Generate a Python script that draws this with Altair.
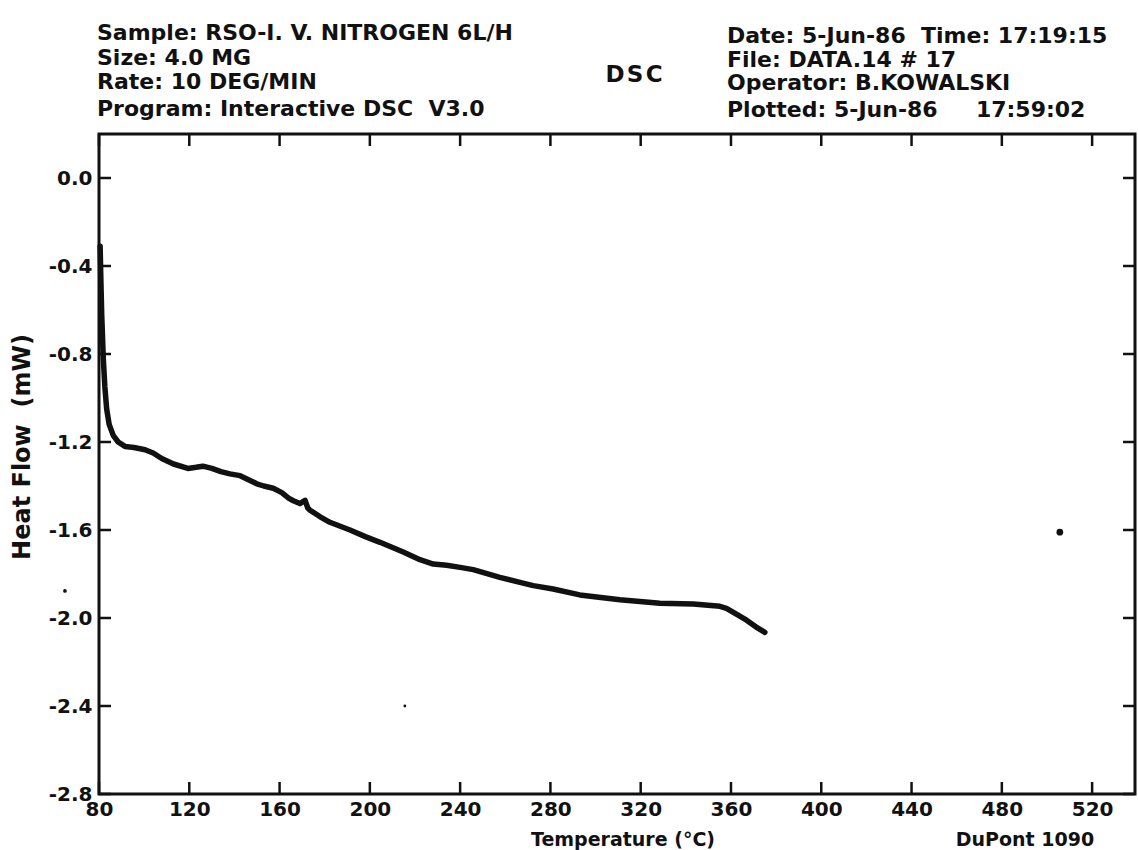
import altair as alt
import pandas as pd

# ---- data ----
temperature = [80.5, 80.8, 81.2, 81.9, 82.6, 83.4, 84.5, 86.3, 88.5, 91.5, 95.5,
               100.4, 104.0, 107.8, 113.0, 119.4, 123.0, 126.0, 130.0, 134.0, 138.0,
               142.5, 146.0, 149.9, 153.0, 157.2, 161.0, 164.0, 166.1, 169.0, 171.3,
               172.5, 173.5, 178.0, 182.3, 191.2, 198.0, 204.5, 214.8, 222.2, 228.1,
               234.0, 240.0, 245.8, 257.6, 266.5, 272.4, 281.2, 293.0, 310.8, 328.5,
               343.3, 355.1, 358.0, 362.0, 366.9, 371.0, 375.0]
heat_flow = [-0.31, -0.45, -0.62, -0.82, -0.95, -1.05, -1.12, -1.17, -1.20, -1.22, -1.225,
             -1.235, -1.25, -1.275, -1.30, -1.32, -1.315, -1.31, -1.32, -1.335, -1.345,
             -1.353, -1.37, -1.39, -1.40, -1.41, -1.43, -1.455, -1.467, -1.48, -1.465,
             -1.50, -1.51, -1.54, -1.565, -1.60, -1.63, -1.656, -1.70, -1.735, -1.755,
             -1.76, -1.77, -1.78, -1.815, -1.838, -1.853, -1.868, -1.895, -1.917, -1.933,
             -1.936, -1.947, -1.956, -1.98, -2.01, -2.04, -2.065]

# small stray specks visible on the scanned plot
speck_temperature = [505.7, 215.5, 64.9]
speck_heat_flow = [-1.61, -2.40, -1.877]
speck_size = [45, 8, 14]

x_tick_values = [80, 120, 160, 200, 240, 280, 320, 360, 400, 440, 480, 520]
y_tick_values = [0.0, -0.4, -0.8, -1.2, -1.6, -2.0, -2.4, -2.8]

NB = "\u00a0"
header_left = ["Sample:" + NB + "RSO-I." + NB + "V." + NB + "NITROGEN" + NB + "6L/H",
               "Size:" + NB + "4.0" + NB + "MG",
               "Rate:" + NB + "10" + NB + "DEG/MIN",
               "Program:" + NB + "Interactive" + NB + "DSC" + NB * 2 + "V3.0"]
header_right = ["Date:" + NB + "5-Jun-86" + NB * 2 + "Time:" + NB + "17:19:15",
                "File:" + NB + "DATA.14" + NB + "#" + NB + "17",
                "Operator:" + NB + "B.KOWALSKI",
                "Plotted:" + NB + "5-Jun-86" + NB * 5 + "17:59:02"]
center_label = "D\u200aS\u200aC"
x_title = "Temperature (°C)"
y_title = "Heat" + NB + "Flow" + NB * 2 + "(mW)"
instrument = "DuPont 1090"

X_DOMAIN = [80, 539]
Y_DOMAIN = [-2.8, 0.2]
W, H = 1036, 660
FONT = "DejaVu Sans"
INK = "#111111"

curve = pd.DataFrame({"T": temperature, "HF": heat_flow})
specks = pd.DataFrame({"T": speck_temperature, "HF": speck_heat_flow, "s": speck_size})
xt = pd.DataFrame({"T": x_tick_values})
yt = pd.DataFrame({"HF": y_tick_values})

xscale = alt.Scale(domain=X_DOMAIN, nice=False, zero=False)
yscale = alt.Scale(domain=Y_DOMAIN, nice=False, zero=False)

xaxis = alt.Axis(values=x_tick_values, ticks=False, domain=False, grid=False,
                 title=None, labelFontSize=20, labelFont=FONT, labelColor=INK,
                 labelFontWeight="bold", labelPadding=5, labelFlush=False)
yaxis = alt.Axis(values=y_tick_values, ticks=False, domain=False, grid=False,
                 title=None, labelFontSize=20, labelFont=FONT, labelColor=INK,
                 labelFontWeight="bold", labelPadding=7,
                 labelExpr="(datum.value < 0 ? '-' : '') + format(abs(datum.value), '.1f')")

line = alt.Chart(curve).mark_line(color=INK, strokeWidth=5.5, strokeCap="round",
                                  strokeJoin="round").encode(
    x=alt.X("T:Q", scale=xscale, axis=xaxis),
    y=alt.Y("HF:Q", scale=yscale, axis=yaxis),
    order="T:Q",
)

dots = alt.Chart(specks).mark_point(filled=True, color=INK, opacity=1).encode(
    x=alt.X("T:Q", scale=xscale),
    y=alt.Y("HF:Q", scale=yscale),
    size=alt.Size("s:Q", scale=None, legend=None),
)

tick_style = dict(color=INK, strokeWidth=2.5)
xt_bottom = alt.Chart(xt).mark_rule(**tick_style).encode(
    x=alt.X("T:Q", scale=xscale), y=alt.value(H), y2=alt.value(H - 12))
xt_top = alt.Chart(xt).mark_rule(**tick_style).encode(
    x=alt.X("T:Q", scale=xscale), y=alt.value(0), y2=alt.value(12))
yt_left = alt.Chart(yt).mark_rule(**tick_style).encode(
    y=alt.Y("HF:Q", scale=yscale), x=alt.value(0), x2=alt.value(12))
yt_right = alt.Chart(yt).mark_rule(**tick_style).encode(
    y=alt.Y("HF:Q", scale=yscale), x=alt.value(W), x2=alt.value(W - 12))


def label(text, px, py, size=21, align="left", angle=0, baseline="alphabetic"):
    kw = dict(text=text, font=FONT, fontSize=size, fontWeight="bold", color=INK,
              align=align, baseline=baseline)
    if angle:
        kw["angle"] = angle
    return alt.Chart(pd.DataFrame({"t": [text]})).mark_text(**kw).encode(
        x=alt.value(px), y=alt.value(py))


texts = []
for txt, py in zip(header_left, [-94, -69, -45, -18]):
    texts.append(label(txt, -2, py, size=22))
for txt, py in zip(header_right, [-91, -67, -44, -17]):
    texts.append(label(txt, 628, py, size=22))
texts.append(label(center_label, 535, -52, size=23, align="center"))
texts.append(label(x_title, 524, 712, size=19, align="center"))
texts.append(label(instrument, 926, 712, size=19, align="center"))
texts.append(label(y_title, -76, 313, size=24, align="center", angle=270,
                   baseline="middle"))

chart = alt.layer(line, dots, xt_bottom, xt_top, yt_left, yt_right, *texts).properties(
    width=W, height=H,
    autosize=alt.AutoSizeParams(type="none"),
    padding={"left": 99, "top": 134, "right": 3, "bottom": 56},
    background="white",
).configure_view(stroke=INK, strokeWidth=3)

chart.save("out.html", embed_options={"renderer": "svg", "actions": False})
